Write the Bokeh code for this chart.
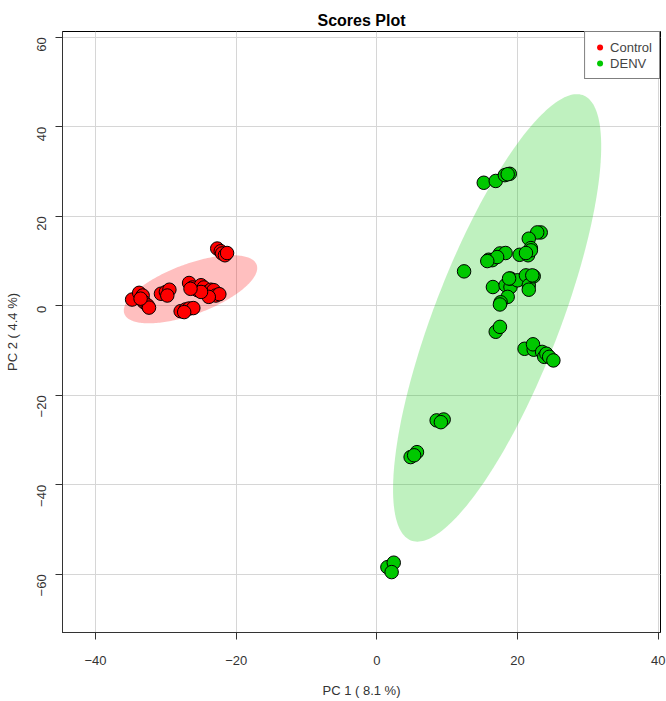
import math
import numpy as np
from bokeh.plotting import figure
from bokeh.models import FixedTicker, Legend, LegendItem
from bokeh.embed import file_html
from bokeh.resources import INLINE

# ---------------- data ----------------
control_pc1 = [-22.7, -22.2, -22.0, -21.6, -21.3,
               -34.8, -33.8, -33.3, -33.1, -32.6, -32.4, -33.6,
               -30.7, -30.0, -29.5, -29.8,
               -26.7, -26.2, -25.5, -25.0, -24.6, -24.1, -23.6, -23.2, -22.9, -22.4, -23.9, -25.0, -26.5,
               -27.9, -27.2, -26.7, -26.1, -27.4]
control_pc2 = [12.8, 12.2, 11.7, 11.3, 11.8,
               1.4, 2.9, 2.3, 0.8, 0.1, -0.4, 1.6,
               2.7, 3.1, 3.6, 2.3,
               5.1, 4.1, 3.5, 4.6, 4.1, 3.1, 3.6, 3.5, 2.3, 2.6, 2.0, 3.1, 3.8,
               -1.2, -0.8, -0.6, -0.5, -1.4]

denv_pc1 = [15.2, 16.9, 18.2, 18.9, 18.6,
            23.3, 22.8, 21.6, 21.9,
            20.3, 21.5, 21.9, 21.2,
            15.9, 16.4, 17.5, 18.3, 17.1, 15.7,
            12.4,
            16.5, 18.3, 19.0, 19.0, 20.0, 21.2, 21.6, 22.3, 21.6, 18.6, 17.6, 17.5, 18.8, 22.1,
            16.9, 17.5,
            21.0, 22.3, 22.2, 23.5, 23.8, 24.1, 24.5, 25.1,
            8.5, 9.5, 9.1,
            4.8, 5.7, 5.3,
            1.5, 2.4, 2.1]
denv_pc2 = [27.5, 27.9, 29.2, 29.5, 29.4,
            16.4, 16.4, 15.0, 12.9,
            11.4, 11.3, 12.4, 11.8,
            10.3, 10.2, 11.7, 11.8, 10.9, 10.0,
            7.7,
            4.2, 4.6, 4.2, 6.1, 5.7, 6.8, 4.6, 6.6, 3.6, 2.0, 0.8, 0.3, 6.1, 6.8,
            -5.8, -4.7,
            -9.6, -9.8, -8.6, -10.3, -11.4, -10.7, -11.4, -12.2,
            -25.6, -25.4, -26.0,
            -33.8, -32.7, -33.4,
            -58.4, -57.4, -59.5]

# 95% confidence ellipses: centre and shape (covariance-like) matrices
control_center = [-26.5, 3.7]
control_shape = [[90.0, 45.0], [45.0, 58.0]]
denv_center = [17.1, -2.7]
denv_shape = [[219.0, 567.0], [567.0, 2500.0]]

group_names = ["Control", "DENV"]
x_ticks = [-40, -20, 0, 20, 40]
y_ticks = [-60, -40, -20, 0, 20, 40, 60]
title_text = "Scores Plot"
x_label = "PC 1 ( 8.1 %)"
y_label = "PC 2 ( 4.4 %)"

FONT = "Liberation Sans"
RED = "#FF0000"
GREEN = "#00C800"
INK = "#333333"


def ellipse_outline(center, shape, n=240):
    t = np.linspace(0, 2 * np.pi, n)
    L = np.linalg.cholesky(np.array(shape))
    pts = L @ np.vstack([np.cos(t), np.sin(t)])
    return center[0] + pts[0], center[1] + pts[1]


p = figure(width=666, height=701, x_range=(-44.7, 40.33), y_range=(-73.0, 61.3),
           output_backend="svg", toolbar_location=None, title=title_text,
           min_border_left=62, min_border_right=6, min_border_top=31, min_border_bottom=69)

p.title.align = "center"
p.title.vertical_align = "top"
p.title.text_font = FONT
p.title.text_font_size = "16px"
p.title.text_font_style = "bold"
p.title.text_color = "black"
p.title.standoff = 2

p.outline_line_color = "black"
p.outline_line_width = 1
p.background_fill_color = "white"
p.border_fill_color = "white"

for ax, ticks in ((p.xaxis[0], x_ticks), (p.yaxis[0], y_ticks)):
    ax.ticker = FixedTicker(ticks=ticks)
    ax.major_tick_out = 7
    ax.major_tick_in = 0
    ax.minor_tick_line_color = None
    ax.major_tick_line_color = INK
    ax.axis_line_color = INK
    ax.major_label_text_font = FONT
    ax.major_label_text_font_size = "13px"
    ax.major_label_text_color = INK
    ax.axis_label_text_font = FONT
    ax.axis_label_text_font_size = "13px"
    ax.axis_label_text_font_style = "normal"
    ax.axis_label_text_color = INK

p.xaxis.axis_label = x_label
p.yaxis.axis_label = y_label
p.xaxis.major_label_standoff = 16
p.xaxis.axis_label_standoff = 15
p.yaxis.major_label_orientation = math.pi / 2
p.yaxis.major_label_standoff = 14
p.yaxis.axis_label_standoff = 10

p.xgrid.ticker = FixedTicker(ticks=x_ticks)
p.ygrid.ticker = FixedTicker(ticks=y_ticks)
p.grid.grid_line_color = "#d6d6d6"
p.grid.grid_line_width = 1

# ellipses
cx, cy = ellipse_outline(control_center, control_shape)
p.patch(cx, cy, fill_color=RED, fill_alpha=0.25, line_color=None)
dx, dy = ellipse_outline(denv_center, denv_shape)
p.patch(dx, dy, fill_color=GREEN, fill_alpha=0.25, line_color=None)

# points
p.scatter(control_pc1, control_pc2, size=13.5, fill_color=RED, line_color="black", line_width=1)
p.scatter(denv_pc1, denv_pc2, size=13.5, fill_color=GREEN, line_color="black", line_width=1)

# legend-only renderers (no outline, as in reference)
lr1 = p.scatter([np.nan], [np.nan], fill_color=RED, line_color=None)
lr2 = p.scatter([np.nan], [np.nan], fill_color=GREEN, line_color=None)
legend = Legend(items=[LegendItem(label=group_names[0], renderers=[lr1]),
                       LegendItem(label=group_names[1], renderers=[lr2])],
                location="top_right", margin=0, padding=7, spacing=0,
                glyph_width=15, glyph_height=16, label_height=16, label_standoff=3,
                label_text_font=FONT, label_text_font_size="13px",
                border_line_color="black", border_line_width=1,
                background_fill_color="white", background_fill_alpha=1)
p.add_layout(legend)

open("out.html", "w").write(file_html(p, INLINE))
